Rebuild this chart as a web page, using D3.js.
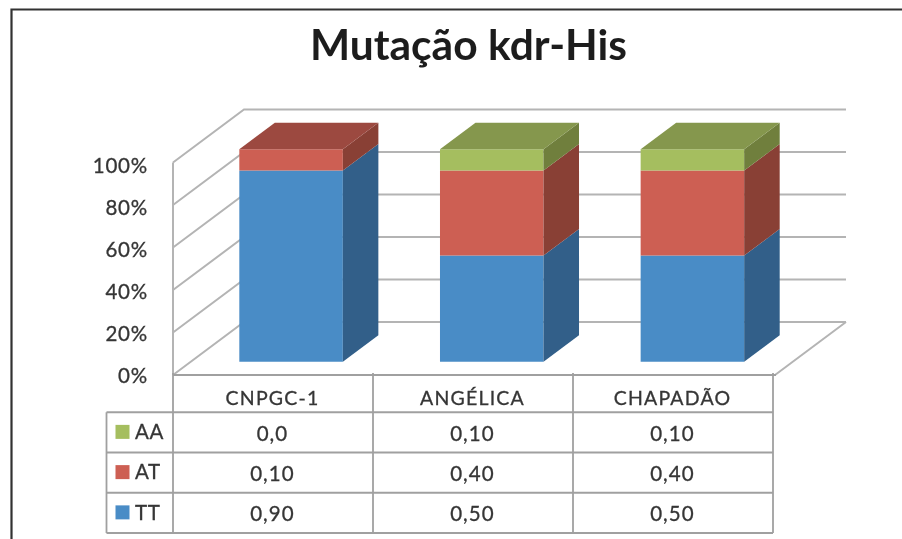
<!DOCTYPE html>
<html>
<head>
<meta charset="utf-8">
<script src="https://cdn.jsdelivr.net/npm/d3@7"></script>
<style>
  html, body { margin: 0; padding: 0; background: #fff; }
  svg { display: block; }
  text { font-family: Lato, "Open Sans", sans-serif; fill: #363636; stroke: #363636; stroke-width: 0.3; }
</style>
</head>
<body>
<div id="main-svg"></div>
<script>
var categories = ["CNPGC-1", "ANGÉLICA", "CHAPADÃO"];
var seriesNames = ["TT", "AT", "AA"];
var ttValues = [0.90, 0.50, 0.50];
var atValues = [0.10, 0.40, 0.40];
var aaValues = [0.0, 0.10, 0.10];
var yTicks = [0, 0.2, 0.4, 0.6, 0.8, 1];
// as printed in the data table, the first cell really is "0,0"
var tableRows = ["AA", "AT", "TT"];
var tableLabels = {
  AA: ["0,0", "0,10", "0,10"],
  AT: ["0,10", "0,40", "0,40"],
  TT: ["0,90", "0,50", "0,50"]
};

var width = 902;
var height = 539;

var colors = {
  TT: { front: "#4a8cc6", side: "#315f89", top: "#3d7099" },
  AT: { front: "#cd5f53", side: "#893f36", top: "#9c4a40" },
  AA: { front: "#a5be5f", side: "#6f7f3c", top: "#85974d" }
};

var svg = d3.select("#main-svg").append("svg")
  .attr("width", width)
  .attr("height", height);

var defs = svg.append("defs");
defs.append("filter").attr("id", "soft")
  .attr("x", "-5%").attr("y", "-5%").attr("width", "110%").attr("height", "110%")
  .append("feGaussianBlur").attr("stdDeviation", 0.6);

var root = svg.append("g").attr("filter", "url(#soft)");

// outer frame, cut off by the screenshot on the right and at the bottom
root.append("path")
  .attr("d", "M11.5,539V9.5H902")
  .attr("fill", "none")
  .attr("stroke", "#333")
  .attr("stroke-width", 2.2);

var x = d3.scaleBand()
  .domain(categories)
  .range([173, 775])
  .paddingInner(0.484)
  .paddingOuter(0.242);

var y = d3.scaleLinear().domain([0, 1]).range([375, 162.5]);
// tick labels sit a little lower than the wall lines in the original
var yLabels = d3.scaleLinear().domain([0, 1]).range([375.5, 166]);

var depthX = 71;
var depthY = 53;

// px, py = position on the front plane, d = 0 (front) .. 1 (back)
function project(px, py, d) {
  return [px + depthX * d, py - depthY * d];
}
var poly = d3.line();

var grid = root.append("g")
  .attr("fill", "none")
  .attr("stroke", "#b4b4b4")
  .attr("stroke-width", 2);

var x0 = x.range()[0];
var x1 = x.range()[1];

// left wall + back wall lines
grid.selectAll("path.tick")
  .data(yTicks)
  .enter()
  .append("path")
  .attr("class", "tick")
  .attr("d", d => poly([[x0, y(d)], project(x0, y(d), 1), project(x1, y(d), 1)]));

grid.append("path").attr("d", poly([[x0, y(0)], [x0, y(1)]]));
grid.append("path").attr("d", poly([[x1, y(0)], project(x1, y(0), 1)]));

var rows = categories.map((c, i) => ({ name: c, TT: ttValues[i], AT: atValues[i], AA: aaValues[i] }));
var stacked = d3.stack().keys(seriesNames)(rows);

var barW = x.bandwidth();
var bars = root.append("g");
var dFront = 0.25;
var dBack = 0.75;

stacked.forEach(function(layer) {
  var c = colors[layer.key];
  var segs = bars.selectAll("g.seg-" + layer.key)
    .data(layer.filter(d => d[1] > d[0]))
    .enter()
    .append("g")
    .attr("class", "seg-" + layer.key);

  segs.append("path")
    .attr("fill", c.front)
    .attr("d", d => {
      var l = x(d.data.name), r = l + barW;
      return poly([project(l, y(d[0]), dFront), project(r, y(d[0]), dFront),
                   project(r, y(d[1]), dFront), project(l, y(d[1]), dFront)]) + "Z";
    });

  segs.append("path")
    .attr("fill", c.side)
    .attr("d", d => {
      var r = x(d.data.name) + barW;
      return poly([project(r, y(d[0]), dFront), project(r, y(d[0]), dBack),
                   project(r, y(d[1]), dBack), project(r, y(d[1]), dFront)]) + "Z";
    });

  // only the topmost segment of a bar shows its lid
  segs.filter(d => d[1] >= 0.999)
    .append("path")
    .attr("fill", c.top)
    .attr("d", d => {
      var l = x(d.data.name), r = l + barW;
      return poly([project(l, y(d[1]), dFront), project(r, y(d[1]), dFront),
                   project(r, y(d[1]), dBack), project(l, y(d[1]), dBack)]) + "Z";
    });
});

// y axis labels
var yAxis = d3.axisLeft(yLabels)
  .tickValues(yTicks)
  .tickSize(0)
  .tickPadding(0)
  .tickFormat(d3.format(".0%"));

var yg = root.append("g")
  .attr("transform", "translate(148,0)")
  .call(yAxis);
yg.select(".domain").remove();
yg.selectAll("text")
  .attr("font-size", 20.5)
  .attr("letter-spacing", 0.8)
  .style("font-family", "Lato")
  .style("fill", "#363636");

// data table under the chart
var tableX = d3.scaleBand().domain(categories).range([173, 773]);
var tableY = d3.scaleBand().domain(["head"].concat(tableRows)).range([372, 533]);
var legendLeft = 106.5;

var table = root.append("g")
  .attr("fill", "none")
  .attr("stroke", "#a0a0a0")
  .attr("stroke-width", 1.8);

table.append("path").attr("d", poly([[x0, y(0)], [x1 + 1, y(0)]]));

categories.forEach(function(c) {
  table.append("path")
    .attr("d", poly([[tableX(c) + tableX.bandwidth(), 373], [tableX(c) + tableX.bandwidth(), 533]]));
});
table.append("path").attr("d", poly([[tableX.range()[0], 373], [tableX.range()[0], 533]]));
table.append("path").attr("d", poly([[legendLeft, tableY("AA")], [legendLeft, 533]]));

tableRows.concat(["end"]).forEach(function(r) {
  var yy = r == "end" ? 533 : tableY(r);
  table.append("path").attr("d", poly([[legendLeft, yy], [tableX.range()[1], yy]]));
});

root.selectAll("text.cat")
  .data(categories)
  .enter()
  .append("text")
  .attr("class", "cat")
  .attr("x", d => tableX(d) + tableX.bandwidth() / 2 - 0.5)
  .attr("y", tableY("head") + tableY.bandwidth() / 2 + 7.5)
  .attr("dominant-baseline", "middle")
  .attr("text-anchor", "middle")
  .attr("font-size", 19.5)
  .attr("letter-spacing", 1.2)
  .text(d => d);

tableRows.forEach(function(r) {
  var cy = tableY(r) + tableY.bandwidth() / 2;

  root.append("rect")
    .attr("x", 115.5)
    .attr("y", cy - 7.5)
    .attr("width", 14)
    .attr("height", 14)
    .attr("fill", colors[r].front);

  root.append("text")
    .attr("x", 135)
    .attr("y", cy + 1.5)
    .attr("dominant-baseline", "middle")
    .attr("font-size", 20.5)
    .attr("letter-spacing", 0.6)
    .text(r);

  root.selectAll("text.val-" + r)
    .data(tableLabels[r])
    .enter()
    .append("text")
    .attr("class", "val-" + r)
    .attr("x", (d, i) => tableX(categories[i]) + tableX.bandwidth() / 2 - 0.5)
    .attr("y", cy + 3)
    .attr("dominant-baseline", "middle")
    .attr("text-anchor", "middle")
    .attr("font-size", 20.5)
    .attr("letter-spacing", 1.1)
    .text(d => d);
});

root.append("text")
  .attr("x", 468.5)
  .attr("y", 60)
  .attr("text-anchor", "middle")
  .attr("font-size", 42.5)
  .style("font-weight", 700)
  .style("fill", "#1c1c1c")
  .style("stroke", "none")
  .text("Mutação kdr-His");
</script>
</body>
</html>
